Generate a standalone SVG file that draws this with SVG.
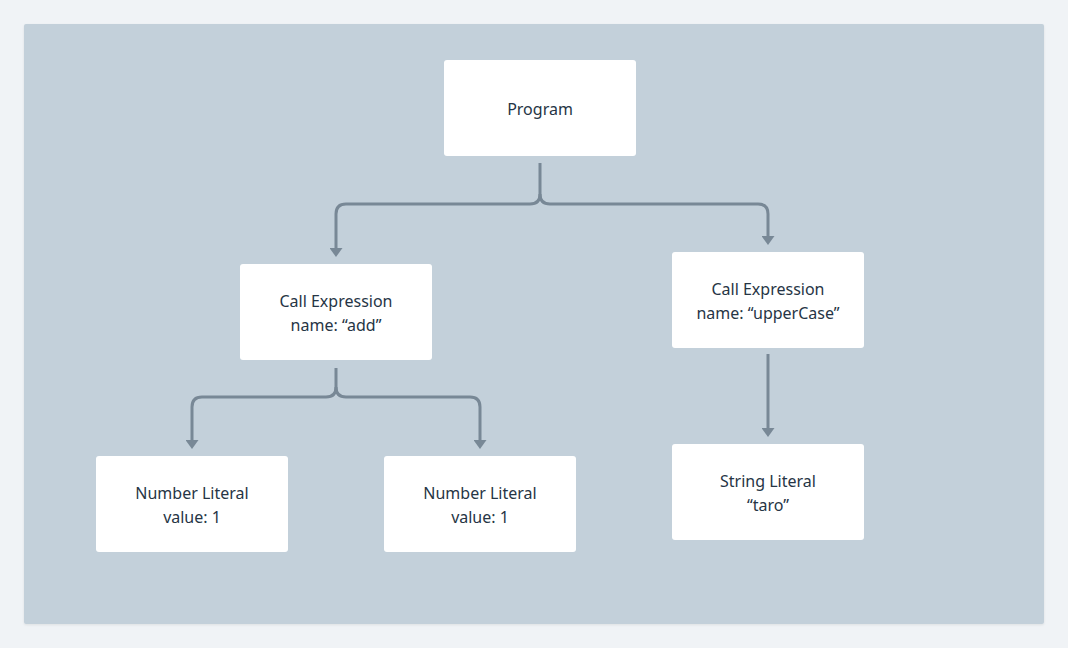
<svg xmlns="http://www.w3.org/2000/svg" width="1068" height="648" viewBox="0 0 1068 648">
<defs>
<style>
.node rect{fill:#ffffff;}
.node text{font-family:"Noto Sans","Liberation Sans",sans-serif;font-size:16px;fill:#263545;text-anchor:middle;}
.conn path{fill:none;stroke:#788896;stroke-width:3;marker-end:url(#arr);}
</style>
<marker id="arr" viewBox="0 0 10 10" preserveAspectRatio="none" markerUnits="userSpaceOnUse" markerWidth="9" markerHeight="13" refX="0" refY="5" orient="auto">
<path d="M0,0 L10,5 L0,10 z" fill="#788896"/>
</marker>
<filter id="sh" x="-5%" y="-5%" width="110%" height="110%">
<feDropShadow dx="0" dy="1" stdDeviation="1" flood-color="#000" flood-opacity="0.08"/>
</filter>
</defs>
<rect x="0" y="0" width="1068" height="648" fill="#f0f3f6"/>
<rect x="24" y="24" width="1020" height="600" rx="2" fill="#c3d0da" filter="url(#sh)"/>
<g class="conn" id="connectors">
<path d="M540,163 V194 Q540,204 530,204 H346 Q336,204 336,214 V248"/>
<path d="M540,194 Q540,204 550,204 H758 Q768,204 768,214 V236"/>
<path d="M336,368 V387 Q336,397 326,397 H202 Q192,397 192,407 V440"/>
<path d="M336,387 Q336,397 346,397 H470 Q480,397 480,407 V440"/>
<path d="M768,354 V428"/>
</g>
<g class="node" id="program"><rect x="444" y="60" width="192" height="96" rx="3"/><text x="540" y="115">Program</text></g>
<g class="node" id="call-add"><rect x="240" y="264" width="192" height="96" rx="3"/><text x="336" y="307">Call Expression</text><text x="336" y="331">name: “add”</text></g>
<g class="node" id="call-upper"><rect x="672" y="252" width="192" height="96" rx="3"/><text x="768" y="295">Call Expression</text><text x="768" y="319">name: “upperCase”</text></g>
<g class="node" id="num1"><rect x="96" y="456" width="192" height="96" rx="3"/><text x="192" y="499">Number Literal</text><text x="192" y="523">value: 1</text></g>
<g class="node" id="num2"><rect x="384" y="456" width="192" height="96" rx="3"/><text x="480" y="499">Number Literal</text><text x="480" y="523">value: 1</text></g>
<g class="node" id="string"><rect x="672" y="444" width="192" height="96" rx="3"/><text x="768" y="487">String Literal</text><text x="768" y="511">“taro”</text></g>
</svg>
